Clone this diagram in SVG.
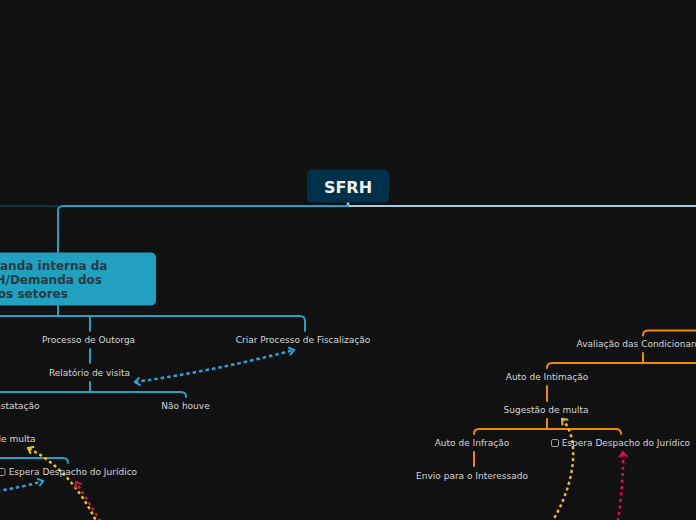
<svg xmlns="http://www.w3.org/2000/svg" width="696" height="520" viewBox="0 0 696 520">
<defs>
<style>
.bg{fill:#111111}
.lbl{font-family:"DejaVu Sans",Verdana,sans-serif;font-size:9px;fill:#d6d6d6}
.mid{text-anchor:middle}
.bl{fill:none;stroke:#22a0c6;stroke-width:2;stroke-linecap:round}
.or{fill:none;stroke:#f28a00;stroke-width:2;stroke-linecap:round}
.dot{fill:none;stroke-width:2.5}
.cb{fill:none;stroke:#9a9a9a;stroke-width:1}
</style>
<marker id="ab" viewBox="-6 -5 8 10" markerWidth="8" markerHeight="10" refX="0" refY="0" orient="auto-start-reverse" markerUnits="userSpaceOnUse"><path d="M-5,-4 L0,0 L-5,4" fill="none" stroke="#2aa5dc" stroke-width="2"/></marker>
<marker id="ay" viewBox="-6 -5 8 10" markerWidth="8" markerHeight="10" refX="0" refY="0" orient="auto" markerUnits="userSpaceOnUse"><path d="M-5,-4 L0,0 L-5,4" fill="none" stroke="#e8c81a" stroke-width="2"/></marker>
<marker id="ay2" viewBox="-6 -5 8 10" markerWidth="8" markerHeight="10" refX="0" refY="0" orient="auto" markerUnits="userSpaceOnUse"><path d="M-5,-4 L0,0 L-5,4" fill="none" stroke="#e6b832" stroke-width="2"/></marker>
<marker id="ar" viewBox="-6 -5 8 10" markerWidth="8" markerHeight="10" refX="0" refY="0" orient="auto" markerUnits="userSpaceOnUse"><path d="M-5,-4 L0,0 L-5,4" fill="none" stroke="#e0104c" stroke-width="2"/></marker>
</defs>
<rect class="bg" x="0" y="0" width="696" height="520"/>

<g id="connectors">
<path d="M0,206 H58" fill="none" stroke="#0a3549" stroke-width="2"/>
<path d="M348,206 H700" fill="none" stroke="#9fcde0" stroke-width="2"/>
<path d="M348,202 V206" fill="none" stroke="#9fcde0" stroke-width="2.5"/>
<path class="bl" d="M348,206 H63 Q58,206 58,211 V253"/>
<path class="bl" d="M58,305 V316"/>
<path class="bl" d="M-100,316 H300 Q305,316 305,321 V331"/>
<path class="bl" d="M90,316 V331"/>
<path class="bl" d="M90,349 V363"/>
<path class="bl" d="M90,382 V392"/>
<path class="bl" d="M-100,392 H181 Q186,392 186,397"/>
<path class="bl" d="M-100,458 H63 Q68,458 68,463"/>

<path class="or" d="M700,330.5 H648 Q643,330.5 643,335.5"/>
<path class="or" d="M643,353 V363"/>
<path class="or" d="M547,368 Q547,363 552,363 H700"/>
<path class="or" d="M547,386 V401"/>
<path class="or" d="M547,419 V429"/>
<path class="or" d="M474,434 Q474,429 479,429 H616 Q621,429 621,434"/>
<path class="or" d="M474,452 V466"/>

<path class="dot" stroke="#2aa5dc" stroke-dasharray="3.5 3" d="M135,382 Q214,371 294,350" marker-start="url(#ab)" marker-end="url(#ab)"/>
<path class="dot" stroke="#2aa5dc" stroke-dasharray="3.5 3" d="M-10,492 Q20,488 43,481" marker-end="url(#ab)"/>
<path class="dot" stroke="#e8c81a" stroke-dasharray="3 3" d="M98,525 Q72,470 28,448" marker-end="url(#ay)"/>
<path class="dot" stroke="#e0104c" stroke-dasharray="3 3.5" d="M104,527 L76,482" marker-end="url(#ar)"/>
<path class="dot" stroke="#e6b832" stroke-dasharray="3 3" d="M548,528 C574,490 582,440 562,419" marker-end="url(#ay2)"/>
<path class="dot" stroke="#e0104c" stroke-dasharray="3 3.5" d="M617,528 Q624,480 623,452" marker-end="url(#ar)"/>
</g>

<g id="n-sfrh">
<rect x="307" y="169.5" width="82" height="33" rx="5" fill="#00314a"/>
<text x="348" y="192.5" text-anchor="middle" font-family="'DejaVu Sans',Verdana,sans-serif" font-size="16" font-weight="bold" fill="#f2f2f2">SFRH</text>
</g>

<g id="n-demanda">
<rect x="-10" y="252.5" width="166" height="53" rx="5" fill="#21a0c0"/>
<text font-family="'DejaVu Sans',Verdana,sans-serif" font-size="12" font-weight="bold" fill="#263a44">
<tspan x="-30.6" y="270">Demanda interna da</tspan>
<tspan x="-30.6" y="284">SFRH/Demanda dos</tspan>
<tspan x="-30.6" y="298">outros setores</tspan>
</text>
</g>

<g id="n-outorga"><text class="lbl mid" x="88.5" y="343">Processo de Outorga</text></g>
<g id="n-criar"><text class="lbl mid" x="303" y="343">Criar Processo de Fiscalização</text></g>
<g id="n-relatorio"><text class="lbl mid" x="89.5" y="376">Relatório de visita</text></g>
<g id="n-constatacao"><text class="lbl" text-anchor="end" x="39.5" y="409">Constatação</text></g>
<g id="n-naohouve"><text class="lbl mid" x="185.5" y="409">Não houve</text></g>
<g id="n-sugestao1"><text class="lbl mid" x="-7" y="441.5">Sugestão de multa</text></g>
<g id="n-espera1">
<rect class="cb" x="-2" y="468.5" width="7" height="7" rx="1.5"/>
<text class="lbl" x="8.7" y="474.5">Espera Despacho do Jurídico</text>
</g>

<g id="n-avaliacao"><text class="lbl mid" x="643.5" y="346.5">Avaliação das Condicionantes</text></g>
<g id="n-intimacao"><text class="lbl mid" x="547" y="380">Auto de Intimação</text></g>
<g id="n-sugestao2"><text class="lbl mid" x="546" y="412.5">Sugestão de multa</text></g>
<g id="n-infracao"><text class="lbl mid" x="472" y="445.5">Auto de Infração</text></g>
<g id="n-espera2">
<rect class="cb" x="551.5" y="439.5" width="7" height="7" rx="1.5"/>
<text class="lbl" x="561.7" y="445.5">Espera Despacho do Jurídico</text>
</g>
<g id="n-envio"><text class="lbl mid" x="472" y="479">Envio para o Interessado</text></g>
</svg>
